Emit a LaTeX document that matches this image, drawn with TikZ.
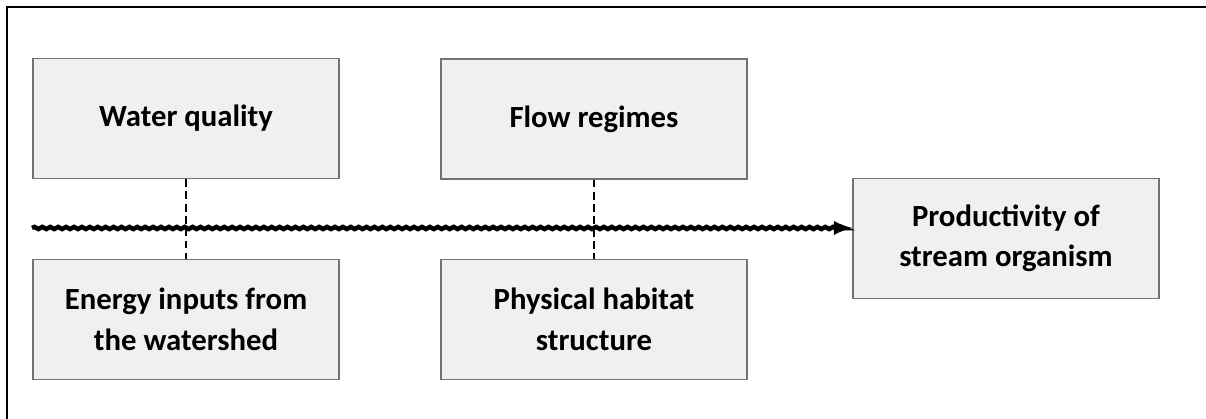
\documentclass[tikz,border=0pt]{standalone}
\usepackage{fontspec}
\setmainfont{Carlito}
\usetikzlibrary{arrows,decorations.pathmorphing}

\begin{document}
\begin{tikzpicture}
%styles
	\tikzset{
	factor/.style={rectangle,draw=black!55,line width=0.6pt,fill=black!6,minimum width=6.12cm,minimum height=2.4cm,align=center,font=\fontsize{17.5}{23}\selectfont\bfseries},
	link/.style={dashed,line width=1.4pt,dash pattern=on 4.5pt off 2.5pt},
	flow/.style={-latex,line width=2.6pt,decorate,decoration={snake,amplitude=0.6pt,segment length=4.5pt,post length=3pt}}}
	\definecolor{pagebg}{RGB}{255,255,255}

	\useasboundingbox[fill=pagebg] (0,0) rectangle (24.12,8.38);

%rahmen
	\draw[line width=1pt] (0.14,0)--(0.14,8.24)--(24.12,8.24);

%boxen
	\node[factor] (water) at (3.72,6.01) {Water quality};
	\node[factor] (energy) at (3.72,1.99) {Energy inputs from\\the watershed};
	\node[factor] (flowreg) at (11.88,6.0) {Flow regimes};
	\node[factor] (habitat) at (11.88,1.99) {Physical habitat\\structure};
	\node[factor] (prod) at (20.12,3.61) {Productivity of\\stream organism};

%pfeil
	\coordinate (start) at (0.64,3.82);
	\draw[flow] (start) -- (start -| prod.west);

%verbindungen
	\draw[link] (water.south) -- (energy.north);
	\draw[link] (flowreg.south) -- (habitat.north);

\end{tikzpicture}
\end{document}
